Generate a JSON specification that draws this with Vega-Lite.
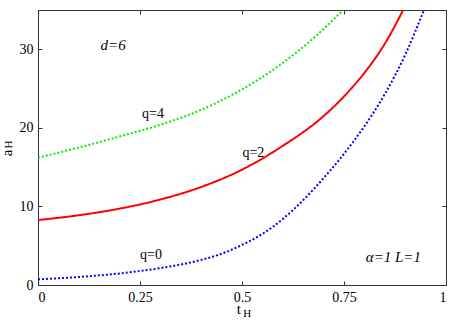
{
  "$schema": "https://vega.github.io/schema/vega-lite/v6.json",
  "width": 408,
  "height": 275,
  "autosize": "none",
  "padding": {"left": 38, "top": 10, "right": 17, "bottom": 39},
  "background": "white",
  "config": {
    "view": {"stroke": "#333333", "strokeWidth": 1},
    "axis": {
      "labelFont": "'Liberation Serif', 'Times New Roman', serif",
      "labelFontSize": 14,
      "labelColor": "#000000",
      "titleFont": "'Liberation Serif', 'Times New Roman', serif",
      "titleFontSize": 15,
      "titleFontWeight": "normal",
      "titleColor": "#000000",
      "tickColor": "#333333",
      "domainColor": "#333333",
      "grid": false,
      "tickSize": -4,
      "labelPadding": 9
    }
  },
  "datasets": {
    "curves": [
      {"q": "q=0", "t": 0.0, "a": 0.72},
      {"q": "q=0", "t": 0.1, "a": 1.02},
      {"q": "q=0", "t": 0.2, "a": 1.47},
      {"q": "q=0", "t": 0.3, "a": 2.15},
      {"q": "q=0", "t": 0.4, "a": 3.2},
      {"q": "q=0", "t": 0.45, "a": 3.98},
      {"q": "q=0", "t": 0.5, "a": 5.1},
      {"q": "q=0", "t": 0.55, "a": 6.5},
      {"q": "q=0", "t": 0.6, "a": 8.4},
      {"q": "q=0", "t": 0.65, "a": 10.8},
      {"q": "q=0", "t": 0.7, "a": 13.6},
      {"q": "q=0", "t": 0.75, "a": 16.7},
      {"q": "q=0", "t": 0.8, "a": 20.2},
      {"q": "q=0", "t": 0.85, "a": 24.3},
      {"q": "q=0", "t": 0.9, "a": 29.3},
      {"q": "q=0", "t": 0.946, "a": 35.0},
      {"q": "q=2", "t": 0.0, "a": 8.27},
      {"q": "q=2", "t": 0.1, "a": 8.88},
      {"q": "q=2", "t": 0.2, "a": 9.72},
      {"q": "q=2", "t": 0.3, "a": 10.88},
      {"q": "q=2", "t": 0.4, "a": 12.48},
      {"q": "q=2", "t": 0.5, "a": 14.68},
      {"q": "q=2", "t": 0.6, "a": 17.71},
      {"q": "q=2", "t": 0.7, "a": 21.5},
      {"q": "q=2", "t": 0.75, "a": 24.0},
      {"q": "q=2", "t": 0.8, "a": 27.0},
      {"q": "q=2", "t": 0.85, "a": 30.7},
      {"q": "q=2", "t": 0.895, "a": 35.0},
      {"q": "q=4", "t": 0.0, "a": 16.2},
      {"q": "q=4", "t": 0.1, "a": 17.5},
      {"q": "q=4", "t": 0.2, "a": 18.9},
      {"q": "q=4", "t": 0.3, "a": 20.4},
      {"q": "q=4", "t": 0.4, "a": 22.3},
      {"q": "q=4", "t": 0.5, "a": 24.9},
      {"q": "q=4", "t": 0.593, "a": 28.0},
      {"q": "q=4", "t": 0.675, "a": 31.4},
      {"q": "q=4", "t": 0.748, "a": 35.0}
    ],
    "curveLabels": [
      {"t": 0.282, "a": 21.25, "text": "q=4"},
      {"t": 0.528, "a": 16.35, "text": "q=2"},
      {"t": 0.277, "a": 3.25, "text": "q=0"}
    ],
    "params": [
      {"t": 0.184, "a": 29.85, "text": "d=6"},
      {"t": 0.871, "a": 2.99, "text": "α=1 L=1"}
    ],
    "xSub": [{"t": 0.513, "a": -3.69, "text": "H"}],
    "ySub": [{"t": -0.07, "a": 17.88, "text": "H"}]
  },
  "layer": [
    {
      "data": {"name": "curves"},
      "mark": {"type": "line", "strokeWidth": 2, "interpolate": "monotone", "strokeCap": "butt"},
      "encoding": {
        "x": {
          "field": "t", "type": "quantitative",
          "scale": {"domain": [0, 1], "nice": false},
          "axis": {"orient": "bottom", "values": [0, 0.25, 0.5, 0.75, 1], "format": ".2~f", "title": "t", "titleX": 200.4, "titleY": 23, "titleBaseline": "middle", "titleAlign": "center"}
        },
        "y": {
          "field": "a", "type": "quantitative",
          "scale": {"domain": [0, 35], "nice": false},
          "axis": {"orient": "left", "values": [0, 10, 20, 30], "title": "a", "titleX": -32, "titleY": 142.5, "titleBaseline": "middle", "titleAlign": "center", "titleAngle": -90}
        },
        "color": {
          "field": "q", "type": "nominal",
          "scale": {"domain": ["q=0", "q=2", "q=4"], "range": ["#0000ff", "#ff0000", "#00ee00"]},
          "legend": null
        },
        "strokeDash": {
          "field": "q", "type": "nominal",
          "scale": {"domain": ["q=0", "q=2", "q=4"], "range": [[2, 2], [1, 0], [2, 2]]},
          "legend": null
        }
      }
    },
    {
      "data": {"name": "curves"},
      "mark": {"type": "point", "opacity": 0},
      "encoding": {
        "x": {"field": "t", "type": "quantitative", "scale": {"domain": [0, 1], "nice": false},
          "axis": {"orient": "top", "values": [0, 0.25, 0.5, 0.75, 1], "labels": false, "title": null}},
        "y": {"field": "a", "type": "quantitative", "scale": {"domain": [0, 35], "nice": false},
          "axis": {"orient": "right", "values": [0, 10, 20, 30], "labels": false, "title": null}}
      }
    },
    {
      "data": {"name": "curveLabels"},
      "mark": {"type": "text", "font": "'Liberation Serif', 'Times New Roman', serif", "fontSize": 14, "align": "center", "baseline": "alphabetic", "color": "#000000"},
      "encoding": {
        "x": {"field": "t", "type": "quantitative", "scale": {"domain": [0, 1], "nice": false}, "axis": null},
        "y": {"field": "a", "type": "quantitative", "scale": {"domain": [0, 35], "nice": false}, "axis": null},
        "text": {"field": "text"}
      }
    },
    {
      "data": {"name": "params"},
      "mark": {"type": "text", "font": "'Liberation Serif', 'Times New Roman', serif", "fontSize": 15, "fontStyle": "italic", "align": "center", "baseline": "alphabetic", "color": "#000000"},
      "encoding": {
        "x": {"field": "t", "type": "quantitative", "scale": {"domain": [0, 1], "nice": false}, "axis": null},
        "y": {"field": "a", "type": "quantitative", "scale": {"domain": [0, 35], "nice": false}, "axis": null},
        "text": {"field": "text"}
      }
    },
    {
      "data": {"name": "xSub"},
      "mark": {"type": "text", "font": "'Liberation Serif', 'Times New Roman', serif", "fontSize": 11, "align": "center", "baseline": "middle", "color": "#000000"},
      "encoding": {
        "x": {"field": "t", "type": "quantitative", "scale": {"domain": [0, 1], "nice": false}, "axis": null},
        "y": {"field": "a", "type": "quantitative", "scale": {"domain": [0, 35], "nice": false}, "axis": null},
        "text": {"field": "text"}
      }
    },
    {
      "data": {"name": "ySub"},
      "mark": {"type": "text", "font": "'Liberation Serif', 'Times New Roman', serif", "fontSize": 11, "align": "center", "baseline": "middle", "angle": 270, "color": "#000000"},
      "encoding": {
        "x": {"field": "t", "type": "quantitative", "scale": {"domain": [0, 1], "nice": false}, "axis": null},
        "y": {"field": "a", "type": "quantitative", "scale": {"domain": [0, 35], "nice": false}, "axis": null},
        "text": {"field": "text"}
      }
    }
  ],
  "resolve": {"axis": {"x": "independent", "y": "independent"}}
}
